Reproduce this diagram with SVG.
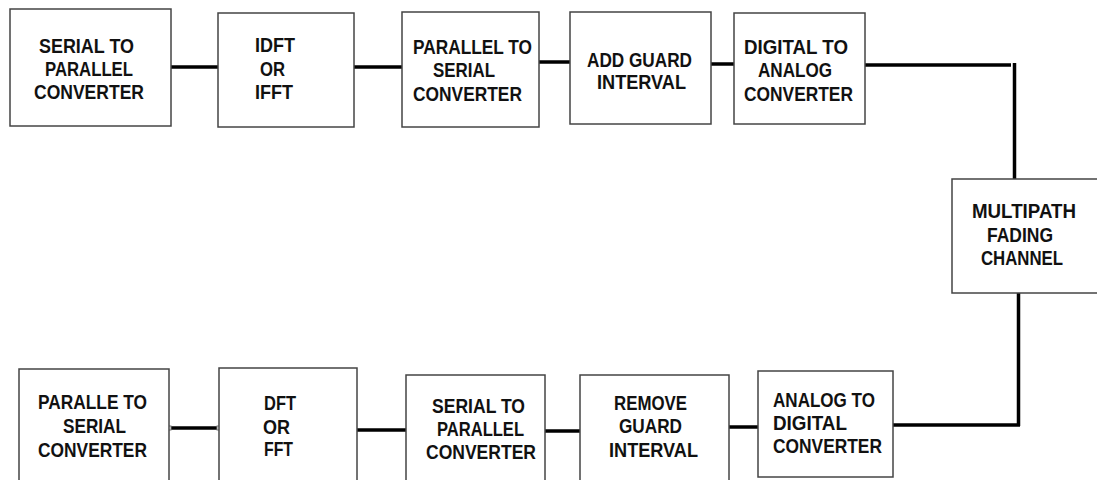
<svg xmlns="http://www.w3.org/2000/svg" width="1097" height="480" viewBox="0 0 1097 480">
<style>
.box{fill:#fff;stroke:#444;stroke-width:1.5}
.t{font-family:"Liberation Sans",Arial,sans-serif;font-weight:bold;font-size:21px;fill:#111}
.c{stroke:#000;stroke-width:3.5;fill:none}
.pt{fill:#fff;stroke:#777;stroke-width:1}
</style>
<rect width="1097" height="480" fill="#fff"/>
<g id="connectors">
<line class="c" x1="171" y1="67" x2="218" y2="67"/>
<line class="c" x1="354" y1="67" x2="402" y2="67"/>
<line class="c" x1="539" y1="62" x2="570" y2="62"/>
<line class="c" x1="711" y1="64" x2="734" y2="64"/>
<line class="c" x1="865" y1="65" x2="1011" y2="65"/>
<line class="c" x1="1014.5" y1="63" x2="1014.5" y2="179"/>
<line class="c" x1="1018.5" y1="293" x2="1018.5" y2="426"/>
<line class="c" x1="893" y1="425" x2="1020" y2="425"/>
<line class="c" x1="729" y1="427" x2="758" y2="427"/>
<line class="c" x1="545" y1="431" x2="580" y2="431"/>
<line class="c" x1="357" y1="430" x2="406" y2="430"/>
<line class="c" x1="169" y1="428" x2="219" y2="428"/>
<rect class="pt" x="167" y="426" width="4" height="4"/>
<rect class="pt" x="217" y="426" width="4" height="4"/>
</g>
<g id="n1"><rect class="box" x="10" y="9" width="161" height="117"/>
<text class="t" x="39" y="53" textLength="95" lengthAdjust="spacingAndGlyphs">SERIAL TO</text>
<text class="t" x="45" y="76" textLength="88" lengthAdjust="spacingAndGlyphs">PARALLEL</text>
<text class="t" x="34" y="99" textLength="110" lengthAdjust="spacingAndGlyphs">CONVERTER</text></g>
<g id="n2"><rect class="box" x="218" y="13" width="136" height="114"/>
<text class="t" x="255" y="52" textLength="40" lengthAdjust="spacingAndGlyphs">IDFT</text>
<text class="t" x="260" y="76" textLength="25" lengthAdjust="spacingAndGlyphs">OR</text>
<text class="t" x="255" y="99" textLength="38" lengthAdjust="spacingAndGlyphs">IFFT</text></g>
<g id="n3"><rect class="box" x="402" y="12" width="137" height="115"/>
<text class="t" x="413" y="54" textLength="119" lengthAdjust="spacingAndGlyphs">PARALLEL TO</text>
<text class="t" x="433" y="77" textLength="62" lengthAdjust="spacingAndGlyphs">SERIAL</text>
<text class="t" x="413" y="101" textLength="109" lengthAdjust="spacingAndGlyphs">CONVERTER</text></g>
<g id="n4"><rect class="box" x="570" y="12" width="141" height="112"/>
<text class="t" x="587" y="67" textLength="105" lengthAdjust="spacingAndGlyphs">ADD GUARD</text>
<text class="t" x="597" y="89" textLength="89" lengthAdjust="spacingAndGlyphs">INTERVAL</text></g>
<g id="n5"><rect class="box" x="734" y="13" width="131" height="111"/>
<text class="t" x="744" y="54" textLength="104" lengthAdjust="spacingAndGlyphs">DIGITAL TO</text>
<text class="t" x="758" y="77" textLength="74" lengthAdjust="spacingAndGlyphs">ANALOG</text>
<text class="t" x="744" y="101" textLength="109" lengthAdjust="spacingAndGlyphs">CONVERTER</text></g>
<g id="n6"><rect class="box" x="952" y="179" width="150" height="114"/>
<text class="t" x="972" y="218" textLength="104" lengthAdjust="spacingAndGlyphs">MULTIPATH</text>
<text class="t" x="987" y="242" textLength="66" lengthAdjust="spacingAndGlyphs">FADING</text>
<text class="t" x="981" y="265" textLength="82" lengthAdjust="spacingAndGlyphs">CHANNEL</text></g>
<g id="n7"><rect class="box" x="758" y="371" width="135" height="106"/>
<text class="t" x="773" y="407" textLength="102" lengthAdjust="spacingAndGlyphs">ANALOG TO</text>
<text class="t" x="773" y="430" textLength="74" lengthAdjust="spacingAndGlyphs">DIGITAL</text>
<text class="t" x="773" y="453" textLength="109" lengthAdjust="spacingAndGlyphs">CONVERTER</text></g>
<g id="n8"><rect class="box" x="580" y="375" width="149" height="120"/>
<text class="t" x="614" y="410" textLength="73" lengthAdjust="spacingAndGlyphs">REMOVE</text>
<text class="t" x="619" y="433" textLength="63" lengthAdjust="spacingAndGlyphs">GUARD</text>
<text class="t" x="609" y="457" textLength="89" lengthAdjust="spacingAndGlyphs">INTERVAL</text></g>
<g id="n9"><rect class="box" x="406" y="375" width="139" height="120"/>
<text class="t" x="432" y="413" textLength="93" lengthAdjust="spacingAndGlyphs">SERIAL TO</text>
<text class="t" x="437" y="436" textLength="87" lengthAdjust="spacingAndGlyphs">PARALLEL</text>
<text class="t" x="426" y="459" textLength="110" lengthAdjust="spacingAndGlyphs">CONVERTER</text></g>
<g id="n10"><rect class="box" x="219" y="368" width="138" height="130"/>
<text class="t" x="264" y="410" textLength="32" lengthAdjust="spacingAndGlyphs">DFT</text>
<text class="t" x="263" y="434" textLength="27" lengthAdjust="spacingAndGlyphs">OR</text>
<text class="t" x="264" y="456" textLength="29" lengthAdjust="spacingAndGlyphs">FFT</text></g>
<g id="n11"><rect class="box" x="19" y="369" width="150" height="130"/>
<text class="t" x="38" y="409" textLength="109" lengthAdjust="spacingAndGlyphs">PARALLE TO</text>
<text class="t" x="63" y="433" textLength="63" lengthAdjust="spacingAndGlyphs">SERIAL</text>
<text class="t" x="38" y="457" textLength="109" lengthAdjust="spacingAndGlyphs">CONVERTER</text></g>
</svg>
